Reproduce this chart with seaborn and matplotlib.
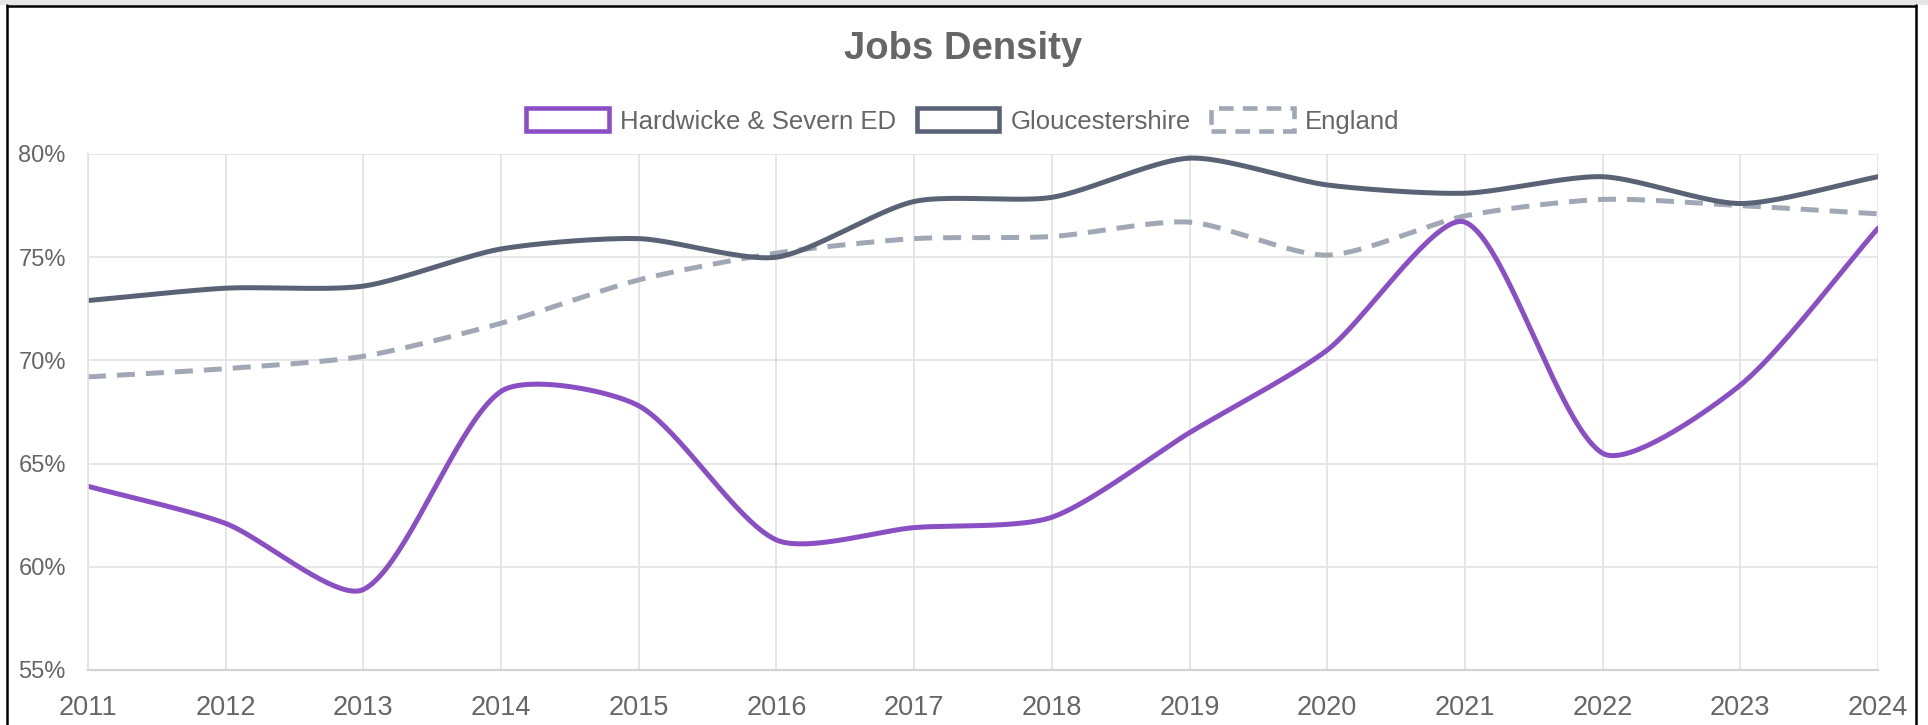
"""
Jobs Density - Hardwicke & Severn ED vs Gloucestershire vs England
"""

import numpy as np
import pandas as pd
import matplotlib
matplotlib.use('Agg')
import matplotlib.pyplot as plt
from matplotlib.patches import Patch, Rectangle
from matplotlib.lines import Line2D
import seaborn as sns

years = [2011, 2012, 2013, 2014, 2015, 2016, 2017, 2018, 2019, 2020, 2021, 2022, 2023, 2024]
hardwicke = [63.9, 62.1, 58.9, 68.5, 67.8, 61.3, 61.9, 62.4, 66.5, 70.5, 76.7, 65.5, 68.8, 76.4]
gloucestershire = [72.9, 73.5, 73.6, 75.4, 75.9, 75.0, 77.7, 77.9, 79.8, 78.5, 78.1, 78.9, 77.6, 78.9]
england = [69.2, 69.6, 70.2, 71.8, 73.9, 75.2, 75.9, 76.0, 76.7, 75.1, 77.0, 77.8, 77.5, 77.1]

series_names = ['Hardwicke & Severn ED', 'Gloucestershire', 'England']
series_colors = ['#8b4fc4', '#5a6376', '#a0a7b5']
y_ticks = [55, 60, 65, 70, 75, 80]

TEXT = '#666666'
GRID = '#e2e2e2'


def smooth(xs, ys, tension=0.25, px_x=138.0, px_y=20.6, lo=55, hi=80, n=40):
    """Bezier smoothing like Chart.js (tension), control points in pixel space"""
    X = np.array(xs, dtype=float) * px_x
    Y = np.array(ys, dtype=float) * px_y
    cnt = len(X)
    c_prev = np.zeros((cnt, 2))
    c_next = np.zeros((cnt, 2))
    for i in range(cnt):
        p0 = np.array([X[max(i - 1, 0)], Y[max(i - 1, 0)]])
        p1 = np.array([X[i], Y[i]])
        p2 = np.array([X[min(i + 1, cnt - 1)], Y[min(i + 1, cnt - 1)]])
        d01 = np.hypot(*(p1 - p0))
        d12 = np.hypot(*(p2 - p1))
        s01 = d01 / (d01 + d12) if d01 + d12 else 0
        s12 = d12 / (d01 + d12) if d01 + d12 else 0
        c_prev[i] = p1 - tension * s01 * (p2 - p0)
        c_next[i] = p1 + tension * s12 * (p2 - p0)
    c_prev[:, 1] = np.clip(c_prev[:, 1], lo * px_y, hi * px_y)
    c_next[:, 1] = np.clip(c_next[:, 1], lo * px_y, hi * px_y)
    out_x, out_y = [], []
    t = np.linspace(0, 1, n)
    for i in range(cnt - 1):
        a = np.array([X[i], Y[i]])
        b = c_next[i]
        c = c_prev[i + 1]
        d = np.array([X[i + 1], Y[i + 1]])
        pts = ((1 - t) ** 3)[:, None] * a + (3 * (1 - t) ** 2 * t)[:, None] * b \
            + (3 * (1 - t) * t ** 2)[:, None] * c + (t ** 3)[:, None] * d
        if i > 0:
            pts = pts[1:]
        out_x.extend(pts[:, 0] / px_x)
        out_y.extend(pts[:, 1] / px_y)
    return out_x, out_y


sns.set_style('white')
plt.rcParams['font.family'] = ['Liberation Sans', 'DejaVu Sans']

fig = plt.figure(figsize=(19.28, 7.25), dpi=100)
ax = fig.add_axes([88 / 1928, 1 - 670 / 725, (1878 - 88) / 1928, (670 - 154) / 725])

frames = []
for name, vals in zip(series_names, [hardwicke, gloucestershire, england]):
    sx, sy = smooth(years, vals)
    frames.append(pd.DataFrame({'year': sx, 'value': sy, 'series': name}))
df = pd.concat(frames, ignore_index=True)

# gray dashed england first so the solid lines sit on top
for name, color in reversed(list(zip(series_names, series_colors))):
    sub = df[df['series'] == name]
    sns.lineplot(data=sub, x='year', y='value', ax=ax, color=color, linewidth=3.6,
                 sort=False, estimator=None, legend=False,
                 dashes=False, solid_capstyle='round', solid_joinstyle='round')
    if name == 'England':
        ax.lines[-1].set_dashes((3.6, 2.2))
        ax.lines[-1].set_dash_capstyle('butt')

ax.set_xlim(2011, 2024)
ax.set_ylim(55, 80)
ax.set_xticks(years)
ax.set_xticklabels([str(y) for y in years])
ax.set_yticks(y_ticks)
ax.set_yticklabels([f'{v}%' for v in y_ticks])
ax.set_xlabel('')
ax.set_ylabel('')
ax.grid(True, color=GRID, linewidth=1.2)
ax.set_axisbelow(True)
ax.tick_params(axis='x', length=10, width=1.2, color=GRID, labelsize=19.5, labelcolor=TEXT, pad=8)
ax.tick_params(axis='y', length=11, width=1.2, color=GRID, labelsize=17, labelcolor=TEXT, pad=5)
for side in ['top', 'right']:
    ax.spines[side].set_visible(False)
ax.spines['left'].set_color(GRID)
ax.spines['left'].set_linewidth(1.2)
ax.spines['bottom'].set_color('#d4d4d4')
ax.spines['bottom'].set_linewidth(1.6)

# title
fig.text(963 / 1928, 1 - 49 / 725, 'Jobs Density', ha='center', va='center',
         fontsize=27.5, fontweight='bold', color=TEXT)

# legend with box handles like the original
handles = [
    Patch(facecolor='white', edgecolor=series_colors[0], linewidth=3.3),
    Patch(facecolor='white', edgecolor=series_colors[1], linewidth=3.3),
    Patch(facecolor='white', edgecolor=series_colors[2], linewidth=3.3, linestyle=(0, (3.2, 2.0))),
]
fig.legend(handles, series_names, loc='center', bbox_to_anchor=(963 / 1928, 1 - 121 / 725),
           ncol=3, frameon=False, fontsize=18.5, labelcolor=TEXT,
           handlelength=3.2, handleheight=1.0, handletextpad=0.45, columnspacing=0.8)

# outer frame of the screenshot
fig.patches.append(Rectangle((0, 1 - 5 / 725), 1, 5 / 725, transform=fig.transFigure,
                             facecolor='#e6e6e6', edgecolor='none'))
fig.lines.append(Line2D([7 / 1928, 7 / 1928], [0, 1 - 5 / 725], transform=fig.transFigure,
                        color='black', linewidth=1.8))
fig.lines.append(Line2D([1916 / 1928, 1916 / 1928], [0, 1 - 5 / 725], transform=fig.transFigure,
                        color='black', linewidth=1.8))
fig.lines.append(Line2D([7 / 1928, 1916 / 1928], [1 - 5.5 / 725, 1 - 5.5 / 725], transform=fig.transFigure,
                        color='black', linewidth=1.8))

fig.savefig('out.png', dpi=100)
print('saved out.png')
